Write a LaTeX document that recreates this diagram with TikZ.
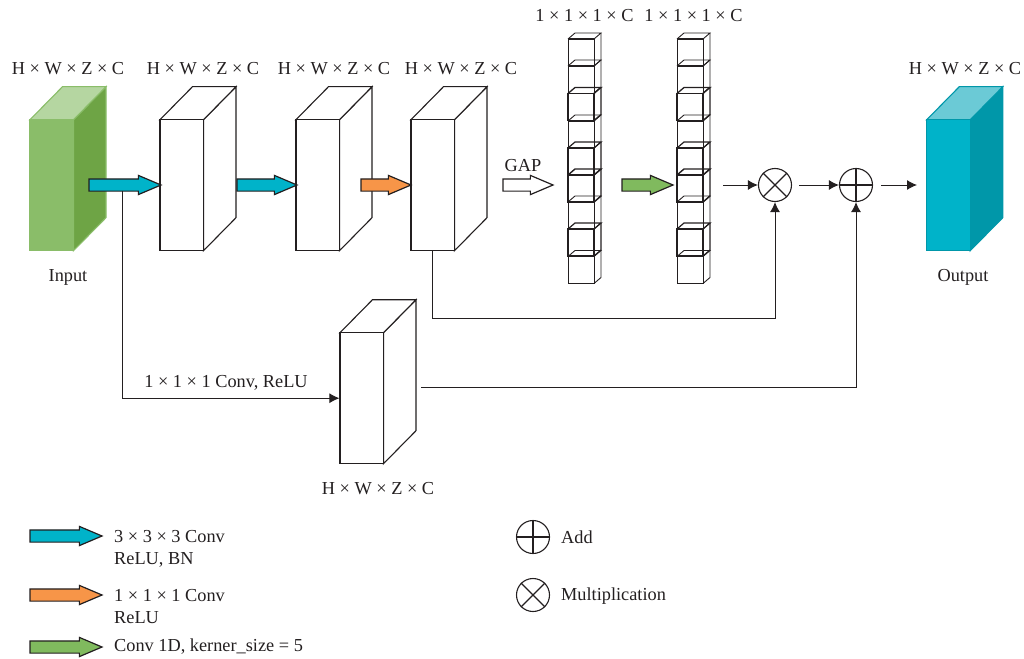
\documentclass[tikz,border=0pt]{standalone}
\usepackage{fontspec}
\setmainfont{Liberation Serif}
\usetikzlibrary{arrows.meta}
\usetikzlibrary{shapes.arrows}
\definecolor{greenface}{HTML}{8ABD69}
\definecolor{greenside}{HTML}{6EA445}
\definecolor{greentop}{HTML}{B5D6A1}
\definecolor{cyanface}{HTML}{00B3C9}
\definecolor{cyanside}{HTML}{0097A9}
\definecolor{cyantop}{HTML}{6BCAD6}
\definecolor{arrowcyan}{HTML}{00B3C9}
\definecolor{arroworange}{HTML}{F79548}
\definecolor{arrowgreen}{HTML}{80BA5E}
\definecolor{linegray}{HTML}{231F20}
\tikzset{
  lbl/.style={font=\fontsize{18.3}{22}\selectfont, text=linegray, inner sep=0pt},
  blockface/.style={draw=linegray, line width=1.1pt, fill=white, minimum width=43.5pt, minimum height=131pt, inner sep=0pt},
  fat/.style={single arrow, draw=linegray, line width=1.2pt, inner xsep=0pt, inner ysep=5.5pt, minimum width=18pt, outer sep=0pt,
    single arrow head extend=3.5pt, single arrow tip angle=46, anchor=tip},
  wire/.style={draw=linegray, line width=1pt, -{Latex[length=10pt,width=10pt]}},
  sumnode/.style={circle, draw=linegray, line width=1.1pt, minimum size=33pt, inner sep=0pt},
}
% x y of the front face centre, then line, face, side, top colours
\newcommand{\drawblock}[7]{
  \fill[#6, draw=#4, line width=1.1pt] (#2+21.75,#3-65.5) -- ++(32.5,-33) -- ++(0,131) -- ++(-32.5,33) -- cycle;
  \fill[#7, draw=#4, line width=1.1pt] (#2-21.75,#3-65.5) -- ++(32.5,-33) -- ++(43.5,0) -- ++(-32.5,33) -- cycle;
  \node[blockface, draw=#4, fill=#5] (#1) at (#2,#3) {};
}
% one small cube of the GAP column
\newcommand{\drawcube}[3]{
  \draw[linegray, line width=#3] (#1,#2) rectangle ++(26,27);
  \draw[linegray, line width=#3] (#1,#2) -- ++(7,-6) -- ++(26,0) -- ++(-7,6);
  \draw[linegray, line width=#3] (#1+33,#2-6) -- ++(0,27) -- ++(-7,6);
  \draw[linegray, line width=1.8pt] (#1,#2) -- ++(26,0);
}
\begin{document}
\begin{tikzpicture}[x=1pt, y=-1pt]
    \useasboundingbox (0,0) rectangle (1024,658);
    % top row of blocks
    \drawblock{input}{51.75}{185.2}{greenface}{greenface}{greenside}{greentop}
    \drawblock{blocka}{181.75}{185.2}{linegray}{white}{white}{white}
    \drawblock{blockb}{317.75}{185.2}{linegray}{white}{white}{white}
    \drawblock{blockc}{432.75}{185.2}{linegray}{white}{white}{white}
    \drawblock{lower}{361.75}{398.2}{linegray}{white}{white}{white}
    \drawblock{output}{948.5}{185.2}{cyanside}{cyanface}{cyanside}{cyantop}
    % first column
    \drawcube{568}{39}{0.9pt}
    \drawcube{568}{66}{0.9pt}
    \drawcube{568}{93.5}{1.3pt}
    \drawcube{568}{121}{0.9pt}
    \drawcube{568}{148}{1.2pt}
    \drawcube{568}{175}{1.4pt}
    \drawcube{568}{202}{0.9pt}
    \drawcube{568}{229}{1.2pt}
    \drawcube{568}{256.5}{0.9pt}
    % second column
    \drawcube{677}{39}{0.9pt}
    \drawcube{677}{66}{0.9pt}
    \drawcube{677}{93.5}{1.3pt}
    \drawcube{677}{121}{0.9pt}
    \drawcube{677}{148}{1.2pt}
    \drawcube{677}{175}{1.4pt}
    \drawcube{677}{202}{0.9pt}
    \drawcube{677}{229}{1.2pt}
    \drawcube{677}{256.5}{0.9pt}
    % fat arrows
    \node[fat, fill=arrowcyan, minimum height=72pt] (cona) at (161,185) {};
    \node[fat, fill=arrowcyan, minimum height=60pt] (conb) at (297,185) {};
    \node[fat, fill=arroworange, minimum height=50pt] (conc) at (411,185) {};
    \node[fat, fill=white, minimum height=50pt] (gap) at (553,185) {};
    \node[fat, fill=arrowgreen, minimum height=51pt] (cond) at (673,185) {};
    % operators
    \node[sumnode] (mul) at (775,185) {};
    \draw[linegray, line width=1.1pt] (mul.north west) -- (mul.south east);
    \draw[linegray, line width=1.1pt] (mul.north east) -- (mul.south west);
    \node[sumnode] (add) at (856,185) {};
    \draw[linegray, line width=1.1pt] (add.north) -- (add.south);
    \draw[linegray, line width=1.1pt] (add.west) -- (add.east);
    % connectors
    \coordinate (cola) at (723,185);
    \coordinate (colb) at (799,185);
    \coordinate (colc) at (881,185);
    \coordinate (outin) at (917,185);
    \coordinate (branch) at (122,191);
    \coordinate (lowerout) at (421,387);
    \draw[wire] (cola) -- (mul.west);
    \draw[wire] (colb) -- (add.west);
    \draw[wire] (colc) -- (outin);
    \draw[wire] (branch) |- (lower.west);
    \draw[wire] (blockc.south) |- (775,318) -- (mul.south);
    \draw[wire] (lowerout) -| (add.south);
    % labels
    \node[lbl] (ta) at (68,69) {H × W × Z × C};
    \node[lbl] (tb) at (203,69) {H × W × Z × C};
    \node[lbl] (tc) at (334,69) {H × W × Z × C};
    \node[lbl] (td) at (461,69) {H × W × Z × C};
    \node[lbl] (te) at (965,69) {H × W × Z × C};
    \node[lbl] (tf) at (378,489) {H × W × Z × C};
    \node[lbl] (tg) at (584.5,16) {1 × 1 × 1 × C};
    \node[lbl] (th) at (693.5,16) {1 × 1 × 1 × C};
    \node[lbl] (ti) at (68,277) {Input};
    \node[lbl] (tj) at (963,277) {Output};
    \node[lbl] (tk) at (523,166) {GAP};
    \node[lbl] (tl) at (226,383) {1 × 1 × 1 Conv, ReLU};
    % legend
    \node[fat, fill=arrowcyan, minimum height=72pt] (lega) at (102,536) {};
    \node[fat, fill=arroworange, minimum height=72pt] (legb) at (102,595) {};
    \node[fat, fill=arrowgreen, minimum height=72pt] (legc) at (102,647) {};
    \node[lbl, anchor=west] (ka) at (114,537) {3 × 3 × 3 Conv};
    \node[lbl, anchor=west] (kb) at (114,560) {ReLU, BN};
    \node[lbl, anchor=west] (kc) at (114,596) {1 × 1 × 1 Conv};
    \node[lbl, anchor=west] (kd) at (114,618) {ReLU};
    \node[lbl, anchor=west] (ke) at (114,647) {Conv 1D, kerner\_size = 5};
    \node[sumnode] (legadd) at (533,537) {};
    \draw[linegray, line width=1.1pt] (legadd.north) -- (legadd.south);
    \draw[linegray, line width=1.1pt] (legadd.west) -- (legadd.east);
    \node[sumnode] (legmul) at (533,595) {};
    \draw[linegray, line width=1.1pt] (legmul.north west) -- (legmul.south east);
    \draw[linegray, line width=1.1pt] (legmul.north east) -- (legmul.south west);
    \node[lbl, anchor=west] (kf) at (561,537) {Add};
    \node[lbl, anchor=west] (kg) at (561,596) {Multiplication};
\end{tikzpicture}
\end{document}
